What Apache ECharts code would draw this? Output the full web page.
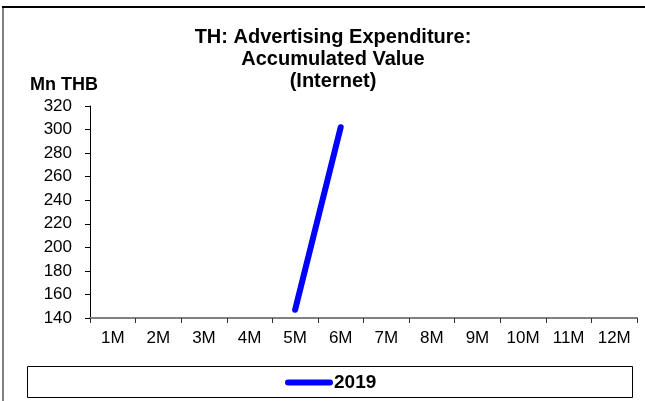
<!DOCTYPE html>
<html>
<head>
<meta charset="utf-8">
<script src="https://cdn.jsdelivr.net/npm/echarts@6/dist/echarts.min.js"></script>
<style>
html,body{margin:0;padding:0;background:#fff;overflow:hidden;}
#chart{width:645px;height:401px;}
</style>
</head>
<body>
<div id="chart"></div>
<script>
var categories = ['1M','2M','3M','4M','5M','6M','7M','8M','9M','10M','11M','12M'];
var values2019 = [null, null, null, null, 147, 302, null, null, null, null, null, null];
var seriesName = '2019';
var titleText = 'TH: Advertising Expenditure:\nAccumulated Value\n(Internet)';
var unitText = 'Mn THB';
var yMin = 140, yMax = 320, yStep = 20;

var FONT = '"Liberation Sans", Arial, sans-serif';
var chart = echarts.init(document.getElementById('chart'), null, {renderer: 'canvas'});
chart.setOption({
  animation: false,
  backgroundColor: '#fff',
  title: [{
    text: titleText,
    left: 328,
    top: 21,
    textAlign: 'center',
    textStyle: {fontFamily: FONT, fontSize: 20, fontWeight: 'bold', color: '#000', lineHeight: 22}
  }, {
    text: unitText,
    left: 30,
    top: 76,
    padding: 0,
    textStyle: {fontFamily: FONT, fontSize: 18, fontWeight: 'bold', color: '#000', lineHeight: 18}
  }],
  graphic: [
    {type: 'line', shape: {x1: 3, y1: 7, x2: 3, y2: 401}, style: {stroke: '#808080', lineWidth: 2}, silent: true},
    {type: 'line', shape: {x1: 2, y1: 7, x2: 645, y2: 7}, style: {stroke: '#000', lineWidth: 2}, silent: true},
    {type: 'rect', shape: {x: 27.5, y: 366.5, width: 605, height: 31}, style: {fill: 'none', stroke: '#000', lineWidth: 1}, silent: true, z: 0}
  ],
  legend: {
    data: [seriesName],
    left: 285,
    top: 373,
    padding: 0,
    itemWidth: 48,
    itemHeight: 6,
    itemGap: 10,
    icon: 'path://M3,0 H45 A3,3 0 0 1 45,6 H3 A3,3 0 0 1 3,0 Z',
    textStyle: {fontFamily: FONT, fontSize: 19, fontWeight: 'bold', color: '#000', padding: [0,0,0,-4]}
  },
  grid: {left: 90, right: 8, top: 106, bottom: 83, containLabel: false},
  xAxis: {
    type: 'category',
    data: categories,
    boundaryGap: true,
    axisLine: {lineStyle: {color: '#808080', width: 2}},
    axisTick: {show: true, length: 5, inside: false, alignWithLabel: false, lineStyle: {color: '#333'}},
    axisLabel: {fontFamily: FONT, fontSize: 17, color: '#000', margin: 12, interval: 0},
    splitLine: {show: false}
  },
  yAxis: {
    type: 'value',
    min: yMin,
    max: yMax,
    interval: yStep,
    axisLine: {show: true, lineStyle: {color: '#000', width: 1}},
    axisTick: {show: true, length: 5, lineStyle: {color: '#000'}},
    axisLabel: {fontFamily: FONT, fontSize: 17, color: '#000', margin: 18},
    splitLine: {show: false}
  },
  series: [{
    name: seriesName,
    type: 'line',
    data: values2019,
    showSymbol: false,
    symbol: 'none',
    connectNulls: false,
    lineStyle: {color: '#0000ff', width: 6, cap: 'round'},
    itemStyle: {color: '#0000ff'}
  }]
});
</script>
</body>
</html>
